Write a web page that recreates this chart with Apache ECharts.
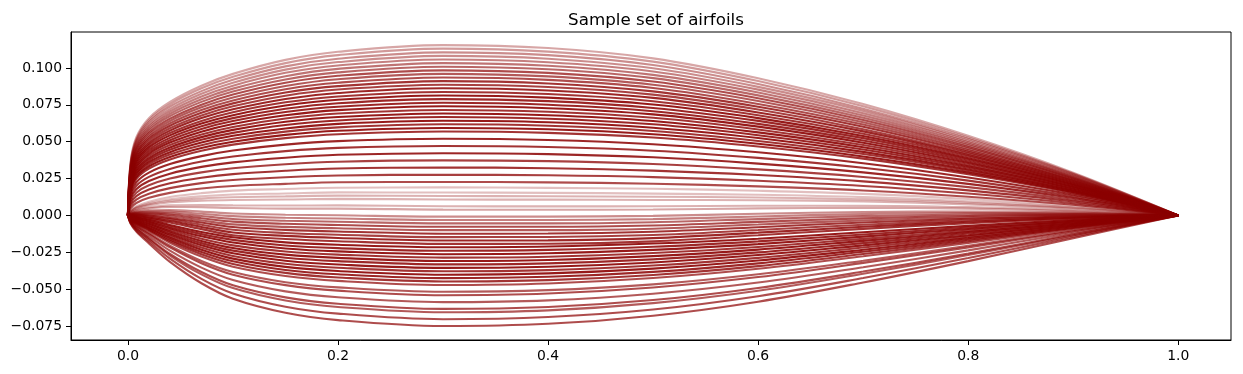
<!DOCTYPE html>
<html>
<head>
<meta charset="utf-8">
<script src="https://cdn.jsdelivr.net/npm/echarts@6/dist/echarts.min.js"></script>
<style>
html,body{margin:0;padding:0;background:#fff;}
#chart{width:1243px;height:374px;}
</style>
</head>
<body>
<div id="chart"></div>
<script>
const chartTitle = 'Sample set of airfoils';
const xStations = [0, 0.0025, 0.008, 0.02, 0.04, 0.07, 0.1, 0.15, 0.2, 0.3, 0.4, 0.5, 0.6, 0.7, 0.8, 0.9, 1.0];
const xTicks = [0, 0.2, 0.4, 0.6, 0.8, 1.0];
const yTicks = [-0.075, -0.05, -0.025, 0, 0.025, 0.05, 0.075, 0.1];

// upper surfaces, y at xStations (thin to thick)
const upperSurfaces = [
 [0,0.0047,0.0084,0.0119,0.0153,0.0182,0.020,0.0214,0.0225,0.0227,0.0224,0.0215,0.0197,0.0169,0.0127,0.0072,0],
 [0,0.0063,0.0107,0.0147,0.0185,0.0219,0.024,0.0259,0.0271,0.0276,0.0272,0.026,0.0235,0.020,0.0149,0.0083,0],
 [0,0.008,0.0131,0.0176,0.0218,0.0255,0.028,0.0303,0.0318,0.0325,0.032,0.0304,0.0274,0.0231,0.017,0.0095,0],
 [0,0.0096,0.0154,0.0204,0.025,0.0292,0.032,0.0347,0.0364,0.0373,0.0368,0.0349,0.0312,0.0261,0.0192,0.0106,0],
 [0,0.0113,0.0178,0.0233,0.0283,0.0329,0.036,0.0391,0.0411,0.0422,0.0416,0.0394,0.0351,0.0292,0.0214,0.0118,0],
 [0,0.0129,0.0201,0.0261,0.0315,0.0366,0.040,0.0436,0.0458,0.0471,0.0464,0.0439,0.039,0.0323,0.0236,0.0129,0],
 [0,0.0146,0.0225,0.029,0.0348,0.0402,0.044,0.048,0.0504,0.052,0.0512,0.0483,0.0428,0.0354,0.0257,0.0141,0],
 [0,0.0162,0.0248,0.0318,0.038,0.0439,0.048,0.0524,0.0551,0.0569,0.056,0.0528,0.0467,0.0385,0.0279,0.0152,0],
 [0,0.017,0.026,0.0332,0.0396,0.0457,0.050,0.0546,0.0574,0.0593,0.0584,0.055,0.0486,0.040,0.029,0.0158,0],
 [0,0.0179,0.0272,0.0347,0.0413,0.0476,0.052,0.0568,0.0597,0.0618,0.0608,0.0573,0.0505,0.0416,0.0301,0.0164,0],
 [0,0.0187,0.0283,0.0361,0.0429,0.0494,0.054,0.059,0.0621,0.0642,0.0632,0.0595,0.0525,0.0431,0.0312,0.0169,0],
 [0,0.0195,0.0295,0.0375,0.0445,0.0513,0.056,0.0613,0.0644,0.0667,0.0656,0.0618,0.0544,0.0447,0.0323,0.0175,0],
 [0,0.0203,0.0307,0.0389,0.0461,0.0531,0.058,0.0635,0.0667,0.0691,0.0679,0.064,0.0563,0.0462,0.0333,0.0181,0],
 [0,0.0212,0.0319,0.0404,0.0478,0.0549,0.060,0.0657,0.0691,0.0715,0.0703,0.0662,0.0583,0.0477,0.0344,0.0187,0],
 [0,0.022,0.033,0.0418,0.0494,0.0568,0.062,0.0679,0.0714,0.074,0.0727,0.0685,0.0602,0.0493,0.0355,0.0192,0],
 [0,0.0228,0.0342,0.0432,0.051,0.0586,0.064,0.0701,0.0737,0.0764,0.0751,0.0707,0.0621,0.0508,0.0366,0.0198,0],
 [0,0.0236,0.0354,0.0446,0.0526,0.0604,0.066,0.0723,0.0761,0.0789,0.0775,0.0729,0.0641,0.0524,0.0377,0.0204,0],
 [0,0.0245,0.0366,0.0461,0.0543,0.0623,0.068,0.0745,0.0784,0.0813,0.0799,0.0752,0.066,0.0539,0.0388,0.021,0],
 [0,0.0253,0.0377,0.0475,0.0559,0.0641,0.070,0.0767,0.0807,0.0837,0.0823,0.0774,0.0679,0.0554,0.0399,0.0215,0],
 [0,0.0261,0.0389,0.0489,0.0575,0.066,0.072,0.079,0.083,0.0862,0.0847,0.0797,0.0698,0.057,0.041,0.0221,0],
 [0,0.0269,0.0401,0.0503,0.0591,0.0678,0.074,0.0812,0.0854,0.0886,0.0871,0.0819,0.0718,0.0585,0.042,0.0227,0],
 [0,0.0278,0.0413,0.0518,0.0608,0.0696,0.076,0.0834,0.0877,0.0911,0.0895,0.0841,0.0737,0.0601,0.0431,0.0233,0],
 [0,0.0286,0.0424,0.0532,0.0624,0.0715,0.078,0.0856,0.090,0.0935,0.0919,0.0864,0.0756,0.0616,0.0442,0.0238,0],
 [0,0.0294,0.0436,0.0546,0.064,0.0733,0.080,0.0878,0.0924,0.096,0.0943,0.0886,0.0776,0.0632,0.0453,0.0244,0],
 [0,0.0302,0.0448,0.056,0.0656,0.0751,0.082,0.090,0.0947,0.0984,0.0967,0.0908,0.0795,0.0647,0.0464,0.025,0],
 [0,0.0311,0.046,0.0575,0.0673,0.077,0.084,0.0922,0.097,0.1008,0.0991,0.0931,0.0814,0.0662,0.0475,0.0256,0],
 [0,0.0319,0.0471,0.0589,0.0689,0.0788,0.086,0.0944,0.0994,0.1033,0.1015,0.0953,0.0834,0.0678,0.0486,0.0261,0],
 [0,0.0327,0.0483,0.0603,0.0705,0.0807,0.088,0.0967,0.1017,0.1057,0.1039,0.0976,0.0853,0.0693,0.0497,0.0267,0],
 [0,0.0335,0.0495,0.0617,0.0721,0.0825,0.090,0.0989,0.104,0.1082,0.1063,0.0998,0.0872,0.0709,0.0507,0.0273,0],
 [0,0.0344,0.0507,0.0632,0.0738,0.0843,0.092,0.1011,0.1063,0.1106,0.1087,0.102,0.0891,0.0724,0.0518,0.0279,0],
 [0,0.0352,0.0518,0.0646,0.0754,0.0862,0.094,0.1033,0.1087,0.1131,0.1111,0.1043,0.0911,0.074,0.0529,0.0284,0],
 [0,0.036,0.053,0.066,0.077,0.088,0.096,0.1055,0.111,0.1155,0.1135,0.1065,0.093,0.0755,0.054,0.029,0]
];
const upperAlpha = [0.7,0.75,0.8,0.75,0.85,0.8,0.85,0.8,
 0.9,0.8,0.9,0.85,0.9,0.8,0.9,0.85,0.85,0.9,0.8,0.85,0.75,0.8,0.7,0.65,0.7,0.6,0.55,0.5,0.45,0.45,0.4,0.35];

// lower surfaces, y at xStations (thin to thick)
const lowerSurfaces = [
 [0,0.0031,0.0062,0.0093,0.0125,0.0151,0.0168,0.0179,0.0188,0.019,0.0187,0.0181,0.0167,0.0146,0.0111,0.0063,0],
 [0,0.0028,0.0056,0.0083,0.011,0.013,0.0142,0.0149,0.0156,0.0155,0.0153,0.0148,0.014,0.0124,0.0095,0.0055,0],
 [0,0.0026,0.0052,0.0076,0.0099,0.0115,0.0123,0.0129,0.0134,0.0132,0.013,0.0127,0.0121,0.0109,0.0085,0.005,0],
 [0,0.0024,0.0047,0.0069,0.0089,0.010,0.0105,0.0108,0.0112,0.0108,0.0107,0.0105,0.0103,0.0095,0.0075,0.0045,0],
 [0,0.0019,0.0039,0.0055,0.0068,0.0071,0.0068,0.0067,0.0068,0.0062,0.0061,0.0062,0.0066,0.0066,0.0056,0.0034,0],
 [0,0.0017,0.0035,0.0048,0.0057,0.0056,0.005,0.0046,0.0046,0.0039,0.0038,0.004,0.0048,0.0052,0.0046,0.0029,0],
 [0,0.0013,0.0026,0.0034,0.0036,0.0026,0.0013,0.0005,0.0001,-0.0008,-0.0008,-0.0003,0.0011,0.0023,0.0026,0.0019,0],
 [0,0.0011,0.0022,0.0027,0.0026,0.0011,-0.0005,-0.0016,-0.0021,-0.0031,-0.0031,-0.0025,-0.0007,0.0009,0.0016,0.0014,0],
 [0,0.0009,0.0018,0.002,0.0015,-0.0004,-0.0024,-0.0036,-0.0043,-0.0054,-0.0054,-0.0046,-0.0025,-0.0005,0.0006,0.0009,0],
 [0,0.0007,0.0013,0.0013,0.0005,-0.0019,-0.0042,-0.0057,-0.0065,-0.0077,-0.0077,-0.0068,-0.0044,-0.002,-0.0004,0.0004,0],
 [0,0.0005,0.0009,0.0006,-0.0006,-0.0034,-0.0061,-0.0078,-0.0087,-0.010,-0.010,-0.009,-0.0062,-0.0034,-0.0014,-0.0002,0],
 [0,0.0002,0.0005,-0.0001,-0.0017,-0.0048,-0.0079,-0.0098,-0.0109,-0.0124,-0.0123,-0.0111,-0.008,-0.0048,-0.0023,-0.0007,0],
 [0,0,0.0001,-0.0008,-0.0027,-0.0063,-0.0097,-0.0119,-0.0131,-0.0147,-0.0146,-0.0133,-0.0099,-0.0063,-0.0033,-0.0012,0],
 [0,-0.0002,-0.0004,-0.0015,-0.0038,-0.0078,-0.0116,-0.0139,-0.0153,-0.017,-0.0169,-0.0154,-0.0117,-0.0077,-0.0043,-0.0017,0],
 [0,-0.0004,-0.0008,-0.0022,-0.0048,-0.0093,-0.0134,-0.016,-0.0175,-0.0193,-0.0192,-0.0176,-0.0135,-0.0091,-0.0053,-0.0022,0],
 [0,-0.0006,-0.0012,-0.0029,-0.0065,-0.0112,-0.0148,-0.0183,-0.0199,-0.0216,-0.0211,-0.0191,-0.0158,-0.0114,-0.0071,-0.0031,0],
 [0,-0.0008,-0.0017,-0.0036,-0.0076,-0.0127,-0.0166,-0.0204,-0.0222,-0.024,-0.0234,-0.0213,-0.0176,-0.0129,-0.0082,-0.0037,0],
 [0,-0.001,-0.0021,-0.0043,-0.0087,-0.0142,-0.0184,-0.0224,-0.0244,-0.0263,-0.0257,-0.0234,-0.0195,-0.0144,-0.0092,-0.0042,0],
 [0,-0.0013,-0.0025,-0.005,-0.0098,-0.0158,-0.0203,-0.0245,-0.0266,-0.0286,-0.028,-0.0255,-0.0214,-0.0159,-0.0103,-0.0048,0],
 [0,-0.0015,-0.0029,-0.0057,-0.0108,-0.0173,-0.0221,-0.0266,-0.0288,-0.0309,-0.0302,-0.0276,-0.0232,-0.0173,-0.0113,-0.0053,0],
 [0,-0.0017,-0.0034,-0.0064,-0.0119,-0.0188,-0.0239,-0.0287,-0.031,-0.0332,-0.0325,-0.0298,-0.0251,-0.0188,-0.0123,-0.0058,0],
 [0,-0.0019,-0.0038,-0.0071,-0.013,-0.0203,-0.0257,-0.0307,-0.0333,-0.0356,-0.0348,-0.0319,-0.0269,-0.0203,-0.0134,-0.0064,0],
 [0,-0.0021,-0.0042,-0.0078,-0.0141,-0.0218,-0.0275,-0.0328,-0.0355,-0.0379,-0.0371,-0.034,-0.0288,-0.0218,-0.0144,-0.0069,0],
 [0,-0.0023,-0.0046,-0.0085,-0.0152,-0.0233,-0.0293,-0.0349,-0.0377,-0.0402,-0.0393,-0.0361,-0.0306,-0.0233,-0.0154,-0.0074,0],
 [0,-0.0025,-0.0051,-0.0092,-0.0163,-0.0248,-0.0311,-0.037,-0.0399,-0.0425,-0.0416,-0.0383,-0.0325,-0.0247,-0.0165,-0.008,0],
 [0,-0.0027,-0.0055,-0.0099,-0.0174,-0.0263,-0.0329,-0.039,-0.0421,-0.0448,-0.0439,-0.0404,-0.0344,-0.0262,-0.0175,-0.0085,0],
 [0,-0.003,-0.0059,-0.0106,-0.0185,-0.0279,-0.0348,-0.0411,-0.0444,-0.0472,-0.0462,-0.0425,-0.0362,-0.0277,-0.0186,-0.0091,0],
 [0,-0.0034,-0.0068,-0.012,-0.0206,-0.0309,-0.0384,-0.0453,-0.0488,-0.0518,-0.0507,-0.0468,-0.0399,-0.0307,-0.0206,-0.0101,0],
 [0,-0.0036,-0.0072,-0.0127,-0.0217,-0.0324,-0.0402,-0.0473,-0.051,-0.0541,-0.053,-0.0489,-0.0418,-0.0322,-0.0217,-0.0107,0],
 [0,-0.004,-0.008,-0.0141,-0.0239,-0.0354,-0.0438,-0.0515,-0.0555,-0.0588,-0.0576,-0.0531,-0.0455,-0.0351,-0.0237,-0.0117,0],
 [0,-0.0044,-0.0089,-0.0155,-0.0261,-0.0384,-0.0474,-0.0556,-0.0599,-0.0634,-0.0621,-0.0574,-0.0492,-0.0381,-0.0258,-0.0128,0],
 [0,-0.0047,-0.0093,-0.0162,-0.0272,-0.040,-0.0493,-0.0577,-0.0621,-0.0657,-0.0644,-0.0595,-0.0511,-0.0396,-0.0269,-0.0134,0],
 [0,-0.0051,-0.0102,-0.0176,-0.0293,-0.043,-0.0529,-0.0619,-0.0666,-0.0704,-0.0689,-0.0638,-0.0548,-0.0425,-0.0289,-0.0144,0],
 [0,-0.0055,-0.011,-0.019,-0.0315,-0.046,-0.0565,-0.066,-0.071,-0.075,-0.0735,-0.068,-0.0585,-0.0455,-0.031,-0.0155,0]
];
const lowerAlpha = [0.25,0.25,0.3,0.3,0.3,0.35,0.45,0.5,
 0.6,0.7,0.65,0.8,0.75,0.85,0.8,0.9,0.85,0.9,0.8,0.9,0.85,0.9,0.8,0.9,0.85,0.8,
 0.7,0.65,0.7,0.65,0.7,0.65,0.7,0.7];

const LINE_COLOR = '#8b0000';
const FONT = 'DejaVu Sans';

function makeSeries(rows, alphas) {
  return rows.map((ys, i) => ({
    type: 'line',
    data: xStations.map((x, k) => [x, ys[k]]),
    smooth: 0.35,
    showSymbol: false,
    symbol: 'none',
    silent: true,
    lineStyle: { color: LINE_COLOR, width: 2.1, opacity: alphas[i] }
  }));
}

function fmtY(v) {
  const s = Math.abs(v).toFixed(3);
  return v < 0 ? '\u2212' + s : s;
}

const chart = echarts.init(document.getElementById('chart'), null, { renderer: 'canvas' });
chart.setOption({
  animation: false,
  backgroundColor: '#ffffff',
  title: {
    text: chartTitle,
    left: 651,
    top: 7,
    textAlign: 'center',
    textStyle: { fontFamily: FONT, fontSize: 16.7, fontWeight: 'normal', color: '#000' }
  },
  grid: {
    left: 71, top: 32, right: 12, bottom: 34,
    show: true, borderColor: '#000', borderWidth: 1, backgroundColor: 'transparent'
  },
  xAxis: {
    type: 'value',
    min: -0.0542, max: 1.0502,
    axisLine: { show: true, onZero: false, lineStyle: { color: '#000', width: 1 } },
    axisTick: { show: true, customValues: xTicks, length: 5, lineStyle: { color: '#000', width: 1 } },
    axisLabel: { customValues: xTicks, margin: 9, color: '#000', fontFamily: FONT, fontSize: 13.9,
      formatter: v => v.toFixed(1) },
    splitLine: { show: false }
  },
  yAxis: {
    type: 'value',
    min: -0.0845, max: 0.1244,
    axisLine: { show: true, onZero: false, lineStyle: { color: '#000', width: 1 } },
    axisTick: { show: true, customValues: yTicks, length: 5, lineStyle: { color: '#000', width: 1 } },
    axisLabel: { customValues: yTicks, margin: 9, color: '#000', fontFamily: FONT, fontSize: 13.9,
      formatter: v => fmtY(v) },
    splitLine: { show: false }
  },
  series: makeSeries(lowerSurfaces, lowerAlpha).concat(makeSeries(upperSurfaces, upperAlpha))
});
</script>
</body>
</html>
